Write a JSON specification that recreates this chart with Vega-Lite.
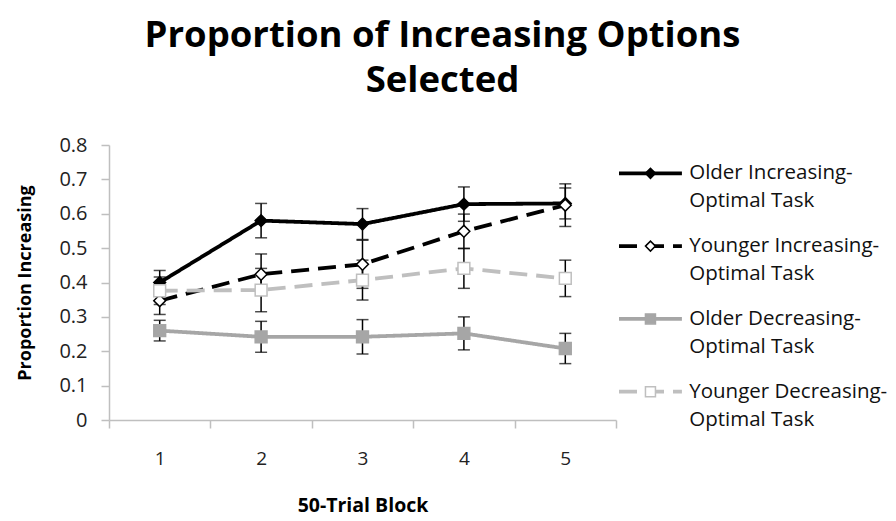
{
  "$schema": "https://vega.github.io/schema/vega-lite/v6.json",
  "padding": {"left": 15, "top": 17, "right": 5, "bottom": 5},
  "background": "white",
  "title": {
    "text": ["Proportion of Increasing Options", "Selected"],
    "font": "Open Sans", "fontSize": 36.5, "fontWeight": "bold", "color": "#000000",
    "lineHeight": 45, "anchor": "middle", "offset": 36, "dx": -10
  },
  "datasets": {
    "main": [
      {"series": "Older Increasing-Optimal Task", "block": "1", "value": 0.400, "err": 0.035},
      {"series": "Older Increasing-Optimal Task", "block": "2", "value": 0.580, "err": 0.050},
      {"series": "Older Increasing-Optimal Task", "block": "3", "value": 0.570, "err": 0.045},
      {"series": "Older Increasing-Optimal Task", "block": "4", "value": 0.628, "err": 0.050},
      {"series": "Older Increasing-Optimal Task", "block": "5", "value": 0.630, "err": 0.045},
      {"series": "Younger Increasing-Optimal Task", "block": "1", "value": 0.347, "err": 0.040},
      {"series": "Younger Increasing-Optimal Task", "block": "2", "value": 0.424, "err": 0.059},
      {"series": "Younger Increasing-Optimal Task", "block": "3", "value": 0.453, "err": 0.070},
      {"series": "Younger Increasing-Optimal Task", "block": "4", "value": 0.549, "err": 0.050},
      {"series": "Younger Increasing-Optimal Task", "block": "5", "value": 0.625, "err": 0.062},
      {"series": "Older Decreasing-Optimal Task", "block": "1", "value": 0.260, "err": 0.030},
      {"series": "Older Decreasing-Optimal Task", "block": "2", "value": 0.242, "err": 0.045},
      {"series": "Older Decreasing-Optimal Task", "block": "3", "value": 0.242, "err": 0.050},
      {"series": "Older Decreasing-Optimal Task", "block": "4", "value": 0.252, "err": 0.048},
      {"series": "Older Decreasing-Optimal Task", "block": "5", "value": 0.208, "err": 0.044},
      {"series": "Younger Decreasing-Optimal Task", "block": "1", "value": 0.376, "err": 0.040},
      {"series": "Younger Decreasing-Optimal Task", "block": "2", "value": 0.378, "err": 0.063},
      {"series": "Younger Decreasing-Optimal Task", "block": "3", "value": 0.407, "err": 0.058},
      {"series": "Younger Decreasing-Optimal Task", "block": "4", "value": 0.441, "err": 0.058},
      {"series": "Younger Decreasing-Optimal Task", "block": "5", "value": 0.412, "err": 0.053}
    ],
    "legend": [
      {"series": "Older Increasing-Optimal Task", "line1": "Older Increasing-", "line2": "Optimal Task"},
      {"series": "Younger Increasing-Optimal Task", "line1": "Younger Increasing-", "line2": "Optimal Task"},
      {"series": "Older Decreasing-Optimal Task", "line1": "Older Decreasing-", "line2": "Optimal Task"},
      {"series": "Younger Decreasing-Optimal Task", "line1": "Younger Decreasing-", "line2": "Optimal Task"}
    ]
  },
  "config": {
    "view": {"stroke": null},
    "font": "Open Sans"
  },
  "spacing": 0,
  "hconcat": [
    {
      "width": 507,
      "height": 275,
      "data": {"name": "main"},
      "encoding": {
        "x": {
          "field": "block", "type": "ordinal",
          "scale": {"type": "band", "paddingInner": 0, "paddingOuter": 0},
          "axis": {
            "title": "50-Trial Block", "labelAngle": 0, "tickBand": "extent",
            "domainColor": "#BFBFBF", "tickColor": "#BFBFBF", "tickSize": 8, "domainWidth": 1.5, "tickWidth": 1.5,
            "labelFont": "Open Sans", "labelFontSize": 19, "labelColor": "#222222", "labelPadding": 21,
            "titleFont": "Open Sans", "titleFontSize": 19.5, "titleFontWeight": "bold", "titleColor": "#000000", "titlePadding": 28
          }
        },
        "y": {
          "field": "value", "type": "quantitative",
          "scale": {"domain": [0, 0.8], "nice": false, "zero": true},
          "axis": {
            "title": "Proportion Increasing", "values": [0, 0.1, 0.2, 0.3, 0.4, 0.5, 0.6, 0.7, 0.8], "format": ".1~f",
            "grid": false, "domainColor": "#BFBFBF", "tickColor": "#BFBFBF", "tickSize": 8, "domainWidth": 1.5, "tickWidth": 1.5,
            "labelFont": "Open Sans", "labelFontSize": 20, "labelColor": "#222222", "labelPadding": 14,
            "titleFont": "Open Sans", "titleFontSize": 18, "titleFontWeight": "bold", "titleColor": "#000000", "titleX": -75
          }
        }
      },
      "layer": [
        {
          "mark": {"type": "line", "strokeWidth": 3.8},
          "encoding": {
            "stroke": {
              "field": "series", "type": "nominal", "legend": null,
              "scale": {
                "domain": ["Older Increasing-Optimal Task", "Younger Increasing-Optimal Task", "Older Decreasing-Optimal Task", "Younger Decreasing-Optimal Task"],
                "range": ["#000000", "#000000", "#A6A6A6", "#BFBFBF"]
              }
            },
            "strokeDash": {
              "field": "series", "type": "nominal", "legend": null,
              "scale": {
                "domain": ["Older Increasing-Optimal Task", "Younger Increasing-Optimal Task", "Older Decreasing-Optimal Task", "Younger Decreasing-Optimal Task"],
                "range": [[1, 0], [18, 9], [1, 0], [18, 9]]
              }
            }
          }
        },
        {
          "mark": {"type": "errorbar", "ticks": {"size": 12, "thickness": 1.5, "color": "#000000"}, "rule": {"strokeWidth": 1.5, "color": "#000000"}},
          "encoding": {
            "y": {"field": "value", "type": "quantitative"},
            "yError": {"field": "err"}
          }
        },
        {
          "mark": {"type": "point", "filled": false, "size": 140, "strokeWidth": 1.5, "opacity": 1},
          "encoding": {
            "shape": {
              "field": "series", "type": "nominal", "legend": null,
              "scale": {
                "domain": ["Older Increasing-Optimal Task", "Younger Increasing-Optimal Task", "Older Decreasing-Optimal Task", "Younger Decreasing-Optimal Task"],
                "range": ["diamond", "diamond", "square", "square"]
              }
            },
            "fill": {
              "field": "series", "type": "nominal", "legend": null,
              "scale": {
                "domain": ["Older Increasing-Optimal Task", "Younger Increasing-Optimal Task", "Older Decreasing-Optimal Task", "Younger Decreasing-Optimal Task"],
                "range": ["#000000", "#FFFFFF", "#A6A6A6", "#FFFFFF"]
              }
            },
            "stroke": {
              "field": "series", "type": "nominal", "legend": null,
              "scale": {
                "domain": ["Older Increasing-Optimal Task", "Younger Increasing-Optimal Task", "Older Decreasing-Optimal Task", "Younger Decreasing-Optimal Task"],
                "range": ["#000000", "#000000", "#A6A6A6", "#BFBFBF"]
              }
            }
          }
        }
      ]
    },
    {
      "width": 270,
      "height": 275,
      "data": {"name": "legend"},
      "encoding": {
        "y": {
          "field": "series", "type": "nominal", "axis": null, "sort": null,
          "scale": {"type": "point", "padding": 0.39,
            "domain": ["Older Increasing-Optimal Task", "Younger Increasing-Optimal Task", "Older Decreasing-Optimal Task", "Younger Decreasing-Optimal Task"]}
        }
      },
      "layer": [
        {
          "mark": {"type": "rule", "strokeWidth": 3.8},
          "encoding": {
            "x": {"datum": 0, "type": "quantitative", "scale": {"domain": [0, 100]}, "axis": null},
            "x2": {"datum": 23.3},
            "stroke": {
              "field": "series", "type": "nominal", "legend": null,
              "scale": {
                "domain": ["Older Increasing-Optimal Task", "Younger Increasing-Optimal Task", "Older Decreasing-Optimal Task", "Younger Decreasing-Optimal Task"],
                "range": ["#000000", "#000000", "#A6A6A6", "#BFBFBF"]
              }
            },
            "strokeDash": {
              "field": "series", "type": "nominal", "legend": null,
              "scale": {
                "domain": ["Older Increasing-Optimal Task", "Younger Increasing-Optimal Task", "Older Decreasing-Optimal Task", "Younger Decreasing-Optimal Task"],
                "range": [[1, 0], [15, 8], [1, 0], [15, 8]]
              }
            }
          }
        },
        {
          "mark": {"type": "point", "filled": false, "size": 100, "strokeWidth": 1.5, "opacity": 1},
          "encoding": {
            "x": {"datum": 11.65, "type": "quantitative"},
            "shape": {
              "field": "series", "type": "nominal", "legend": null,
              "scale": {
                "domain": ["Older Increasing-Optimal Task", "Younger Increasing-Optimal Task", "Older Decreasing-Optimal Task", "Younger Decreasing-Optimal Task"],
                "range": ["diamond", "diamond", "square", "square"]
              }
            },
            "fill": {
              "field": "series", "type": "nominal", "legend": null,
              "scale": {
                "domain": ["Older Increasing-Optimal Task", "Younger Increasing-Optimal Task", "Older Decreasing-Optimal Task", "Younger Decreasing-Optimal Task"],
                "range": ["#000000", "#FFFFFF", "#A6A6A6", "#FFFFFF"]
              }
            },
            "stroke": {
              "field": "series", "type": "nominal", "legend": null,
              "scale": {
                "domain": ["Older Increasing-Optimal Task", "Younger Increasing-Optimal Task", "Older Decreasing-Optimal Task", "Younger Decreasing-Optimal Task"],
                "range": ["#000000", "#000000", "#A6A6A6", "#BFBFBF"]
              }
            }
          }
        },
        {
          "mark": {"type": "text", "font": "Open Sans", "fontSize": 20.5, "align": "left", "baseline": "middle", "color": "#111111"},
          "encoding": {
            "x": {"datum": 26, "type": "quantitative"},
            "text": {"field": "line1"}
          }
        },
        {
          "mark": {"type": "text", "font": "Open Sans", "fontSize": 20.5, "align": "left", "baseline": "middle", "dy": 28, "color": "#111111"},
          "encoding": {
            "x": {"datum": 26, "type": "quantitative"},
            "text": {"field": "line2"}
          }
        }
      ]
    }
  ]
}
